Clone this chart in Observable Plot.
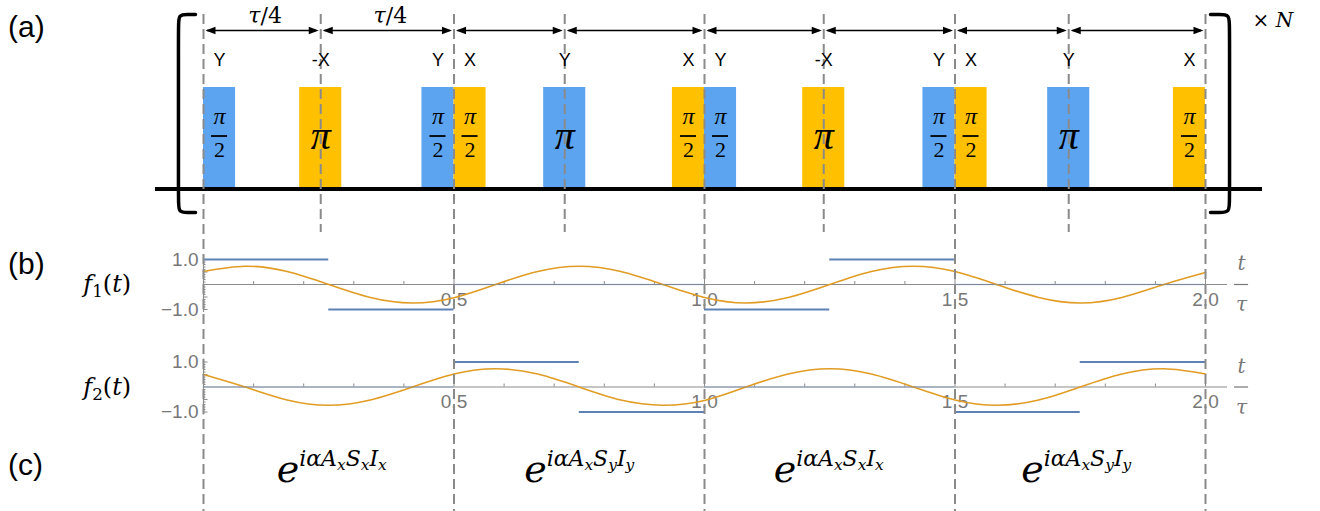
<!DOCTYPE html>
<html>
<head>
<meta charset="utf-8">
<script src="https://cdn.jsdelivr.net/npm/d3@7"></script>
<script src="https://cdn.jsdelivr.net/npm/@observablehq/plot@0.6"></script>
<style>
html,body{margin:0;padding:0;background:#fff;}
#fig{position:relative;width:1320px;height:511px;overflow:hidden;background:#fff;font-family:"Liberation Sans",Arial,sans-serif;}
#fig svg{position:absolute;left:0;top:0;}
.plab{position:absolute;left:8px;font-size:30px;line-height:1;color:#000;font-family:"Liberation Sans",Arial,sans-serif;}
</style>
</head>
<body>
<div id="fig"></div>
<script>
// ---------------- data ----------------
const panelLabels = ["(a)", "(b)", "(c)"];
const pulseAxis  = ["Y", "-X", "Y", "X", "Y", "X", "Y", "-X", "Y", "X", "Y", "X"];
const pulseAngle = ["π/2", "π", "π/2", "π/2", "π", "π/2", "π/2", "π", "π/2", "π/2", "π", "π/2"];
const pulseStart = [0.000, 0.192, 0.436, 0.500, 0.679, 0.936, 1.000, 1.196, 1.436, 1.500, 1.685, 1.936];
const pulseEnd   = [0.064, 0.276, 0.500, 0.564, 0.763, 1.000, 1.064, 1.280, 1.500, 1.564, 1.769, 2.000];
const mainGuides = [0, 0.5, 1, 1.5, 2];
const subGuides  = [0.234, 0.721, 1.238, 1.727];
const spanLabels = ["τ/4", "τ/4"];
const repeatLabel = "× N";
const stepEdges = [0, 0.25, 0.5, 0.75, 1, 1.25, 1.5, 1.75, 2];
const f1Steps = [1, -1, 0, 0, -1, 1, 0, 0];
const f2Steps = [0, 0, 1, -1, 0, 0, -1, 1];
const curveT  = [0, 0.083, 0.167, 0.25, 0.333, 0.417, 0.5, 0.583, 0.667, 0.75, 0.833, 0.917, 1, 1.083, 1.167, 1.25, 1.333, 1.417, 1.5, 1.583, 1.667, 1.75, 1.833, 1.917, 2];
const f1Curve = [0.52, 0.73, 0.52, 0, -0.52, -0.74, -0.53, 0, 0.52, 0.73, 0.52, 0, -0.52, -0.74, -0.52, 0, 0.52, 0.73, 0.52, 0, -0.52, -0.74, -0.52, 0, 0.48];
const f2Curve = [0.50, 0, -0.52, -0.73, -0.52, 0, 0.52, 0.73, 0.52, 0, -0.52, -0.73, -0.54, 0, 0.52, 0.73, 0.52, 0, -0.52, -0.73, -0.52, 0, 0.52, 0.73, 0.52];
const fNames = ["f_1(t)", "f_2(t)"];
const xTickValues = [0.5, 1, 1.5, 2];
const xTickLabels = ["0.5", "1.0", "1.5", "2.0"];
const xMinorTicks = [0.1,0.2,0.3,0.4,0.5,0.6,0.7,0.8,0.9,1.0,1.1,1.2,1.3,1.4,1.5,1.6,1.7,1.8,1.9,2.0];
const yTickValues = [1, -1];
const yTickLabels = ["1.0", "−1.0"];
const yMinorTicks = [-1,-0.9,-0.8,-0.7,-0.6,-0.5,-0.4,-0.3,-0.2,-0.1,0.1,0.2,0.3,0.4,0.5,0.6,0.7,0.8,0.9,1];
const unitLabel = ["t", "τ"];
const propagators = ["e^{iαA_xS_xI_x}", "e^{iαA_xS_yI_y}", "e^{iαA_xS_xI_x}", "e^{iαA_xS_yI_y}"];
const propagatorStart = [0.146, 0.640, 1.138, 1.632];

// ---------------- style / layout ----------------
const W = 1320, H = 511;
const serif = "DejaVu Serif";
const piFont = "Liberation Serif";
const sans = "Liberation Sans";
const blueFill = "#5ca4f0", orangeFill = "#ffc000";
const lineBlue = "#5e81b5", lineOrange = "#e19c24";
const guideGray = "#8a8a8a", axisGray = "#8c8c8c", labelGray = "#777";
const dash = "10,5";
const xS = {domain: [0, 2], range: [203, 1205], axis: null};
const base = {width: W, height: H, margin: 0, x: xS,
  style: {background: "transparent", overflow: "visible", fontFamily: sans}};

// panel (a) rows (in units of the pulse-height scale)
const rowTop = 1.719, rowTau = 1.709, rowArrow = 1.562, rowAxis = 1.266;
const rowNum = 0.715, rowBar = 0.522, rowDen = 0.389, rowBig = 0.52, rowSubEnd = -0.429, rowTimes = 1.66;
const bracketL = {v: -0.050, e: -0.016}, bracketR = {v: 2.048, e: 2.010};
const bracketTop = 1.719, bracketBot = -0.2315;
const baselineSpan = [-0.0958, 2.1138];

const mathSet = new Set([...propagators, ...spanLabels, repeatLabel, ...fNames]);

function renderMath(el, src, size) {
  const ns = "http://www.w3.org/2000/svg";
  el.textContent = "";
  el.setAttribute("style", "white-space:pre");
  let offset = 0;
  const put = (txt, fs, target) => {
    const s = document.createElementNS(ns, "tspan");
    s.textContent = txt;
    s.setAttribute("font-size", fs.toFixed(1));
    s.setAttribute("font-style", /^[0-9()\/×\s]+$/.test(txt) ? "normal" : "italic");
    const d = target - offset;
    if (Math.abs(d) > 1e-6) s.setAttribute("dy", d.toFixed(2));
    offset = target;
    el.appendChild(s);
  };
  (function walk(str, fs, lvl) {
    let i = 0;
    while (i < str.length) {
      const c = str[i];
      if (c === "^" && str[i + 1] === "{") {
        let depth = 1, j = i + 2;
        while (depth) { if (str[j] === "{") depth++; else if (str[j] === "}") depth--; j++; }
        walk(str.slice(i + 2, j - 1), fs * 0.58, lvl - fs * 0.42);
        i = j;
      } else if (c === "_") {
        put(str[i + 1], fs * 0.7, lvl + fs * 0.22);
        i += 2;
      } else {
        put(c, fs, lvl);
        i++;
      }
    }
  })(src, size, 0);
}
function richify(svg) {
  svg.querySelectorAll("text").forEach(t => {
    const s = t.textContent;
    if (mathSet.has(s)) {
      const g = t.closest("g[font-size]");
      const fs = parseFloat(g ? g.getAttribute("font-size") : 20) || 20;
      renderMath(t, s, fs);
    }
  });
  return svg;
}

// ---------------- derived tables ----------------
const pulses = pulseAxis.map((a, i) => ({axis: a, angle: pulseAngle[i], x1: pulseStart[i], x2: pulseEnd[i],
  mid: (pulseStart[i] + pulseEnd[i]) / 2, fill: a.includes("X") ? orangeFill : blueFill}));
const halfPulses = pulses.filter(p => p.angle === "π/2");
const fullPulses = pulses.filter(p => p.angle === "π");
const guides = [...mainGuides, ...subGuides].sort((a, b) => a - b);
const spans = guides.slice(1).map((b, i) => ({a: guides[i], b, label: spanLabels[i] || ""}));
const headR = {draw(c) { c.moveTo(0, 0); c.lineTo(-10, -3.8); c.lineTo(-10, 3.8); c.closePath(); }};
const headL = {draw(c) { c.moveTo(0, 0); c.lineTo(10, -3.8); c.lineTo(10, 3.8); c.closePath(); }};
function bracket(b) {
  const dt = (b.e - b.v) * 0.55, dy = 0.11;
  return [[b.e, bracketTop], [b.v + dt, bracketTop], [b.v, bracketTop], [b.v, bracketTop - dy],
          [b.v, bracketBot + dy], [b.v, bracketBot], [b.v + dt, bracketBot], [b.e, bracketBot]];
}

const fig = document.getElementById("fig");

// ---------------- panel (a) ----------------
const panelA = Plot.plot({...base,
  y: {domain: [0, 1], range: [188.5, 87], axis: null},
  color: {type: "identity"},
  marks: [
    Plot.rect(pulses, {x1: "x1", x2: "x2", y1: 0, y2: 1, fill: "fill"}),
    Plot.ruleY([0], {x1: baselineSpan[0], x2: baselineSpan[1], stroke: "#000", strokeWidth: 4}),
    Plot.line(bracket(bracketL), {x: d => d[0], y: d => d[1], curve: "basis", stroke: "#000", strokeWidth: 3.5}),
    Plot.line(bracket(bracketR), {x: d => d[0], y: d => d[1], curve: "basis", stroke: "#000", strokeWidth: 3.5}),
    Plot.ruleX(subGuides, {x: d => d, y1: rowTop, y2: rowSubEnd, stroke: guideGray, strokeWidth: 2, strokeDasharray: dash}),
    Plot.ruleY(spans, {x1: "a", x2: "b", y: rowArrow, stroke: "#000", strokeWidth: 1.4, insetLeft: 4, insetRight: 4}),
    Plot.dot(spans, {x: "b", y: rowArrow, symbol: headR, fill: "#000", stroke: "none", dx: -2}),
    Plot.dot(spans, {x: "a", y: rowArrow, symbol: headL, fill: "#000", stroke: "none", dx: 2}),
    Plot.text(spans.filter(s => s.label), {x: d => (d.a + d.b) / 2, y: rowTau, dx: 3, text: "label", fontSize: 22, fontFamily: serif}),
    Plot.text(pulses, {x: "mid", y: rowAxis, text: "axis", fontSize: 18, fontFamily: sans}),
    Plot.text(halfPulses, {x: "mid", y: rowNum, text: () => "π", fontSize: 24, fontFamily: piFont, fontStyle: "italic"}),
    Plot.ruleY(halfPulses, {x1: d => d.mid - 0.016, x2: d => d.mid + 0.016, y: rowBar, stroke: "#000", strokeWidth: 1.8}),
    Plot.text(halfPulses, {x: "mid", y: rowDen, text: () => "2", fontSize: 22, fontFamily: piFont}),
    Plot.text(fullPulses, {x: "mid", y: rowBig, text: () => "π", fontSize: 40, fontFamily: piFont, fontStyle: "italic"}),
    Plot.text([repeatLabel], {x: 2.094, y: rowTimes, text: d => d, textAnchor: "start", fontSize: 20, fontFamily: serif})
  ]
});
fig.appendChild(richify(panelA));

// ---------------- panel (b) ----------------
function fPanel(name, steps, curve, yRange) {
  const stepData = steps.map((v, i) => ({x1: stepEdges[i], x2: stepEdges[i + 1], y: v}));
  const curveData = curveT.map((t, i) => ({t, v: curve[i]}));
  const isMajor = d => Math.abs(d * 2 - Math.round(d * 2)) < 1e-9;
  return Plot.plot({...base,
    y: {domain: [-1, 1], range: yRange, axis: null},
    marks: [
      Plot.ruleY([0], {x1: 0, x2: 2.044, stroke: axisGray, strokeWidth: 1.2}),
      Plot.ruleX(xMinorTicks, {x: d => d, y1: 0, y2: d => isMajor(d) ? 0.2 : 0.12, stroke: axisGray, strokeWidth: 1}),
      Plot.ruleX([0], {x: d => d, y1: -1.12, y2: 1.12, stroke: axisGray, strokeWidth: 1.2}),
      Plot.ruleY(yMinorTicks, {y: d => d, x1: 0, x2: d => isMajor(d) ? 0.009 : 0.005, stroke: axisGray, strokeWidth: 1}),
      Plot.text(xTickValues, {x: d => d, y: 0, dy: 15, text: (d, i) => xTickLabels[i], fontSize: 19, fill: labelGray, fontFamily: sans}),
      Plot.text(yTickValues, {x: 0, y: d => d, dx: -5, textAnchor: "end", text: (d, i) => yTickLabels[i], fontSize: 19, fill: labelGray, fontFamily: sans}),
      Plot.text([name], {x: -0.24, y: 0, text: d => d, textAnchor: "start", fontSize: 24, fontFamily: serif}),
      Plot.line(curveData, {x: "t", y: "v", curve: "natural", stroke: lineOrange, strokeWidth: 1.6}),
      Plot.ruleY(stepData.filter(d => d.y === 0), {x1: "x1", x2: "x2", y: "y", stroke: lineBlue, strokeOpacity: 0.35, strokeWidth: 1.4}),
      Plot.ruleY(stepData.filter(d => d.y !== 0), {x1: "x1", x2: "x2", y: "y", stroke: lineBlue, strokeWidth: 1.8}),
      Plot.text([unitLabel[0]], {x: 2.072, y: 0.82, text: d => d, fontSize: 20, fontFamily: serif, fontStyle: "italic", fill: labelGray}),
      Plot.ruleY([0], {x1: 2.058, x2: 2.086, stroke: labelGray, strokeWidth: 1.2}),
      Plot.text([unitLabel[1]], {x: 2.072, y: -0.82, text: d => d, fontSize: 20, fontFamily: serif, fontStyle: "italic", fill: labelGray})
    ]
  });
}
fig.appendChild(richify(fPanel(fNames[0], f1Steps, f1Curve, [309, 259])));
fig.appendChild(richify(fPanel(fNames[1], f2Steps, f2Curve, [411.5, 361.5])));

// ---------------- guides + panel (c) ----------------
const overlay = Plot.plot({...base, marginTop: 14,
  marks: [
    Plot.ruleX(mainGuides, {x: d => d, stroke: guideGray, strokeWidth: 2, strokeDasharray: dash}),
    Plot.text(propagators, {x: (d, i) => propagatorStart[i], frameAnchor: "bottom", dy: -30, lineAnchor: "bottom",
      textAnchor: "start", text: d => d, fontSize: 38, fontFamily: serif})
  ]
});
fig.appendChild(richify(overlay));

// panel labels
const labelTops = [12, 249, 450];
panelLabels.forEach((t, i) => {
  const d = document.createElement("div");
  d.className = "plab";
  d.style.top = labelTops[i] + "px";
  d.textContent = t;
  fig.appendChild(d);
});
</script>
</body>
</html>
